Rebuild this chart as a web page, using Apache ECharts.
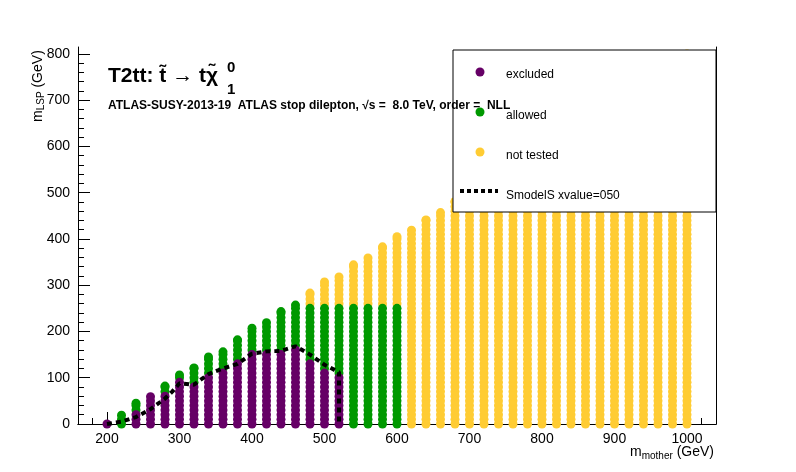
<!DOCTYPE html>
<html><head><meta charset="utf-8">
<script src="https://cdn.jsdelivr.net/npm/echarts@6/dist/echarts.min.js"></script>
<style>html,body{margin:0;background:#fff}#c{width:796px;height:472px}</style>
</head><body><div id="c"></div>
<script>
// mother masses (GeV), one column of grid points each
const masses = [200,220,240,260,280,300,320,340,360,380,400,420,440,460,480,500,520,540,560,580,600,
  620,640,660,680,700,720,740,760,780,800,820,840,860,880,900,920,940,960,980,1000];
// highest LSP mass tested in each column
const colTop = [0,19,45,59,82,106,121,145,156,182,207,219,243,257,283,307,318,344,359,383,405,
  419,441,457,481,500,520,540,560,580,600,620,640,660,680,700,720,740,760,780,800];
// excluded up to (−1 = none)
const excTop = [0,-1,27,59,67,91,81,106,117,132,153,154,154,167,138,117,106,-1,-1,-1,-1,
  -1,-1,-1,-1,-1,-1,-1,-1,-1,-1,-1,-1,-1,-1,-1,-1,-1,-1,-1,-1];
// allowed up to (above: not tested)
const allTop = [0,19,45,59,82,106,121,145,156,182,207,219,243,257,253,253,253,253,253,254,254,
  -1,-1,-1,-1,-1,-1,-1,-1,-1,-1,-1,-1,-1,-1,-1,-1,-1,-1,-1,-1];
const lspStep = 10;
// SModelS exclusion contour
const contourX = [200,220,240,260,280,290,300,320,340,360,380,400,420,440,460,480,500,520,520];
const contourY = [0,5,15,32,55,70,88,85,108,120,130,152,157,158,168,150,128,112,0];
const xTicks = [200,300,400,500,600,700,800,900,1000];
const yTicks = [0,100,200,300,400,500,600,700,800];

const excluded = [], allowed = [], untested = [];
masses.forEach((m, i) => {
  for (let y = 0; y <= colTop[i] + 0.1; y += lspStep) {
    const yy = Math.min(y, colTop[i]);
    if (yy <= excTop[i]) excluded.push([m, yy]);
    else if (yy <= allTop[i]) allowed.push([m, yy]);
    else untested.push([m, yy]);
  }
  // make sure the column top is drawn
  const t = colTop[i];
  if (t % lspStep) (t <= excTop[i] ? excluded : t <= allTop[i] ? allowed : untested).push([m, t]);
});
const minorX = [], minorY = [];
for (let v = 180; v <= 1040; v += 20) minorX.push(v);
for (let v = 0; v <= 815; v += 20) minorY.push(v);

const C_EXC = '#660066', C_ALL = '#009900', C_NT = '#ffcc33';
const font = 'Liberation Sans, Arial, sans-serif';
const chart = echarts.init(document.getElementById('c'));
const lbl = { fontFamily: font, fontSize: 14, color: '#000', formatter: v => String(v) };
chart.setOption({
  animation: false,
  grid: { left: 78, right: 80, top: 47, bottom: 48 },
  xAxis: [
    { type: 'value', min: 160, max: 1040, splitLine: { show: false },
      axisLine: { lineStyle: { color: '#000' } },
      axisTick: { inside: true, length: 12, customValues: xTicks, lineStyle: { color: '#000' } },
      axisLabel: { customValues: xTicks, margin: 8, ...lbl } },
    { type: 'value', min: 160, max: 1040, position: 'bottom', splitLine: { show: false },
      axisLine: { show: false },
      axisTick: { inside: true, length: 6, customValues: minorX, lineStyle: { color: '#000' } },
      axisLabel: { show: false } },
    { type: 'value', min: 160, max: 1040, position: 'top', splitLine: { show: false },
      axisLine: { lineStyle: { color: '#000' } }, axisTick: { show: false }, axisLabel: { show: false } }
  ],
  yAxis: [
    { type: 'value', min: 0, max: 815, splitLine: { show: false },
      axisLine: { lineStyle: { color: '#000' } },
      axisTick: { inside: true, length: 12, customValues: yTicks, lineStyle: { color: '#000' } },
      axisLabel: { customValues: yTicks, margin: 8, ...lbl } },
    { type: 'value', min: 0, max: 815, position: 'left', splitLine: { show: false },
      axisLine: { show: false },
      axisTick: { inside: true, length: 6, customValues: minorY, lineStyle: { color: '#000' } },
      axisLabel: { show: false } },
    { type: 'value', min: 0, max: 815, position: 'right', splitLine: { show: false },
      axisLine: { lineStyle: { color: '#000' } }, axisTick: { show: false }, axisLabel: { show: false } }
  ],
  series: [
    { type: 'scatter', data: untested, symbolSize: 9, itemStyle: { color: C_NT, opacity: 1 } },
    { type: 'scatter', data: allowed, symbolSize: 9, itemStyle: { color: C_ALL, opacity: 1 } },
    { type: 'scatter', data: excluded, symbolSize: 9, itemStyle: { color: C_EXC, opacity: 1 } },
    { type: 'line', data: contourX.map((x, i) => [x, contourY[i]]), symbol: 'none', z: 5,
      lineStyle: { color: '#000', width: 4, type: [5, 4] } }
  ],
  graphic: [
    { type: 'text', left: 108, top: 66, style: { text: 'T2tt: t̃ → tχ̃', font: 'bold 21px ' + font, fill: '#000' } },
    { type: 'text', left: 227, top: 60, style: { text: '0', font: 'bold 15px ' + font, fill: '#000' } },
    { type: 'text', left: 227, top: 82, style: { text: '1', font: 'bold 15px ' + font, fill: '#000' } },
    { type: 'text', z: 102, left: 108, top: 100, style: { text: 'ATLAS-SUSY-2013-19  ATLAS stop dilepton, √s =  8.0 TeV, order =  NLL', font: 'bold 12px ' + font, fill: '#000' } },
    { type: 'text', x: 30, y: 122, rotation: Math.PI / 2,
      style: { text: '{a|m}{s|LSP}{a| (GeV)}', rich: { a: { font: '14px ' + font, fill: '#000' }, s: { font: '10px ' + font, fill: '#000', padding: [6,0,0,0] } } } },
    { type: 'text', left: 630, top: 445,
      style: { text: '{a|m}{s|mother}{a| (GeV)}', rich: { a: { font: '14px ' + font, fill: '#000' }, s: { font: '10px ' + font, fill: '#000', padding: [8,0,0,0] } } } },
    { type: 'rect', z: 100, shape: { x: 453, y: 50, width: 263, height: 162 }, style: { fill: '#fff', stroke: '#000', lineWidth: 1 } },
    { type: 'circle', z: 101, shape: { cx: 480, cy: 72, r: 4.5 }, style: { fill: C_EXC } },
    { type: 'circle', z: 101, shape: { cx: 480, cy: 112, r: 4.5 }, style: { fill: C_ALL } },
    { type: 'circle', z: 101, shape: { cx: 480, cy: 152, r: 4.5 }, style: { fill: C_NT } },
    { type: 'line', z: 101, shape: { x1: 460, y1: 191, x2: 498, y2: 191 }, style: { stroke: '#000', lineWidth: 4, lineDash: [4, 3] } },
    { type: 'text', z: 101, left: 506, top: 69, style: { text: 'excluded', font: '12px ' + font, fill: '#000' } },
    { type: 'text', z: 101, left: 506, top: 110, style: { text: 'allowed', font: '12px ' + font, fill: '#000' } },
    { type: 'text', z: 101, left: 506, top: 150, style: { text: 'not tested', font: '12px ' + font, fill: '#000' } },
    { type: 'text', z: 101, left: 506, top: 190, style: { text: 'SmodelS xvalue=050', font: '12px ' + font, fill: '#000' } }
  ]
});
</script></body></html>
